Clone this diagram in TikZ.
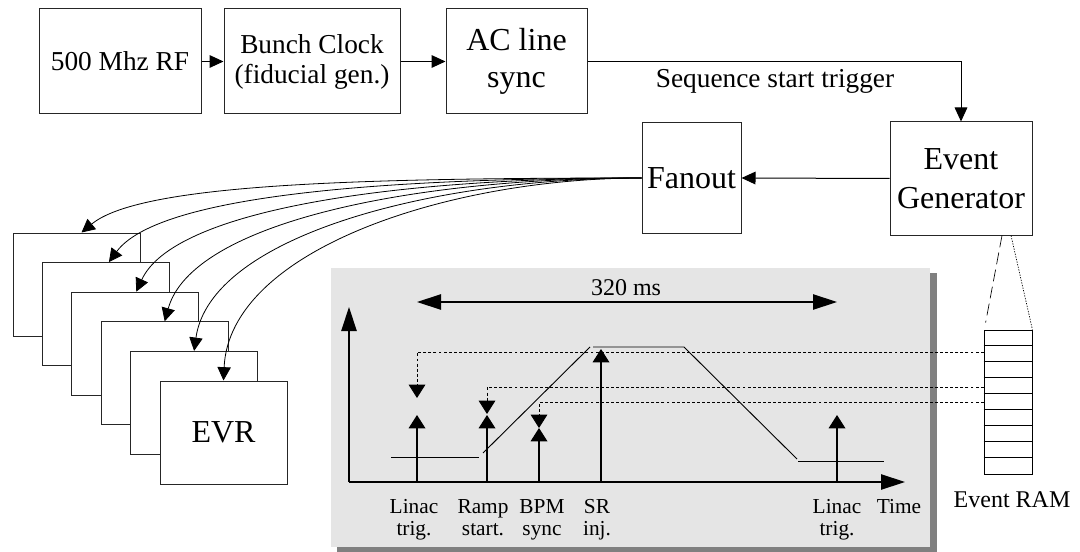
\documentclass[tikz,border=0pt]{standalone}
\usepackage{fontspec}
\setmainfont{Liberation Serif}
\usetikzlibrary{arrows.meta,calc}
\definecolor{panelgray}{RGB}{229,229,229}
\definecolor{shadowgray}{RGB}{128,128,128}
\begin{document}
\begin{tikzpicture}[x=0.75pt,y=-0.75pt,
  box/.style={draw=black!85,line width=0.75pt,fill=white,inner sep=0pt,align=center},
  arr/.style={line width=0.75pt,-{Triangle[length=10.5pt,width=9.5pt]}},
  evrarr/.style={line width=0.6pt,-{Triangle[length=10pt,width=10pt]}},
  evarr/.style={line width=1pt,-{Triangle[length=10pt,width=12.5pt]}},
  bigarr/.style={line width=1pt,-{Triangle[length=18pt,width=11.5pt]}},
  bigdbl/.style={line width=1pt,{Triangle[length=18pt,width=11.5pt]}-{Triangle[length=18pt,width=11.5pt]}},
  dsh/.style={line width=0.6pt,dash pattern=on 2.2pt off 1.6pt},
  wave/.style={line width=0.7pt},
  lab/.style={font=\fontsize{16}{16.5}\selectfont,align=center,anchor=north,inner sep=0pt},
  evrbox/.style={box,minimum width=95.25pt,minimum height=77.25pt}
]
\useasboundingbox (0,0) rectangle (1080,552);

% top chain
\node[box,minimum width=121.5pt,minimum height=78.75pt,font=\fontsize{20.5}{24}\selectfont] (rf) at (120,61.5) {500 Mhz RF};
\node[box,minimum width=132pt,minimum height=78.75pt,font=\fontsize{20.5}{22.5}\selectfont] (bunch) at (312,61.5) {Bunch Clock\\(fiducial gen.)};
\node[box,minimum width=105.75pt,minimum height=78.75pt,font=\fontsize{24}{28}\selectfont] (ac) at (516.5,61.5) {AC line\\sync};
\node[box,minimum width=106.5pt,minimum height=84.75pt,font=\fontsize{24}{29}\selectfont] (evg) at (961,178.5) {Event\\Generator};
\node[box,minimum width=74.25pt,minimum height=83.25pt,font=\fontsize{24}{28}\selectfont] (fan) at (691.5,178) {Fanout};
\node[font=\fontsize{20.5}{24}\selectfont,anchor=base,inner sep=0pt] (seq) at (775,88) {Sequence start trigger};

\draw[arr] (rf) -- (bunch);
\draw[arr] (bunch) -- (ac);
\draw[arr] (ac.east) -| (evg.north);
\draw[arr] (evg.west) -- (fan.east);

% EVR stack
\node[evrbox] (evr1) at (76.5,284.5) {};
\node[evrbox] (evr2) at (105.9,314.1) {};
\node[evrbox] (evr3) at (135.3,343.7) {};
\node[evrbox] (evr4) at (164.7,373.3) {};
\node[evrbox] (evr5) at (194.1,402.9) {};
\node[evrbox,font=\fontsize{24}{28}\selectfont] (evr6) at (223.5,432.5) {EVR};

\coordinate (t1) at ($(evr1.north west)+(69,0)$);
\coordinate (t2) at ($(evr2.north west)+(67,0)$);
\coordinate (t3) at ($(evr3.north west)+(65,0)$);
\coordinate (t4) at ($(evr4.north west)+(64,0)$);
\coordinate (t5) at ($(evr5.north west)+(64,0)$);
\coordinate (t6) at ($(evr6.north west)+(64,0)$);

\draw[evrarr] (fan.west) .. controls +(-292,0) and +(58,-48) .. (t1);
\draw[evrarr] (fan.west) .. controls +(-272,0) and +(48,-65) .. (t2);
\draw[evrarr] (fan.west) .. controls +(-252,0) and +(37,-81) .. (t3);
\draw[evrarr] (fan.west) .. controls +(-232,0) and +(27,-98) .. (t4);
\draw[evrarr] (fan.west) .. controls +(-212,0) and +(16,-114) .. (t5);
\draw[evrarr] (fan.west) .. controls +(-192,0) and +(6,-131) .. (t6);

% chart panel
\fill[shadowgray] (337,273) rectangle (937,552);
\fill[panelgray] (331,268) rectangle (930,547);

% Event RAM
\node[draw,line width=0.6pt,fill=white,minimum width=36pt,minimum height=108pt,inner sep=0pt] (ram) at (1008,402) {};
\foreach \k in {1,...,8}
  \draw[line width=0.6pt] ($(ram.north west)+(0,16*\k)$) -- ($(ram.north east)+(0,16*\k)$);
\node[font=\fontsize{18}{20}\selectfont,anchor=base,inner sep=0pt] (ramlab) at (1012,507) {Event RAM};

\draw[line width=0.5pt,dash pattern=on 9pt off 4pt] ($(evg.south)+(41,0)$) -- ($(ram.north west)+(2,-7)$);
\draw[line width=0.5pt,dash pattern=on 1pt off 1pt] ($(evg.south)+(50,0)$) -- (ram.north east);

% axes
\coordinate (o) at (349,482);
\draw[bigarr] (o) -- (349,307);
\draw[bigarr] (o) -- (905,482);
\draw[bigdbl] (417,302) -- (837,302);
\node[font=\fontsize{18}{20}\selectfont,anchor=base,inner sep=0pt] (ms) at (626,295) {320 ms};

% waveform
\draw[wave] (391,457) -- (479,457);
\draw[wave] (483,453) -- (590,347);
\draw[wave] (593,347) -- (684,347) -- (797,459);
\draw[wave] (798,461) -- (884,461);

% event arrows
\draw[evarr] (417,482) -- (417,415);
\draw[evarr] (487,482) -- (487,415);
\draw[evarr] (539,482) -- (539,428);
\draw[evarr] (601,482) -- (601,349);
\draw[evarr] (837,482) -- (837,415);

% dashed links from RAM
\coordinate (r2) at ($(ram.north west)+(0,23)$);
\coordinate (r4) at ($(ram.north west)+(0,58)$);
\coordinate (r5) at ($(ram.north west)+(0,73)$);
\draw[dsh,-{Triangle[length=10pt,width=12.5pt]}] (r2) -- (r2 -| 417,0) -- (417,398);
\draw[dsh,-{Triangle[length=10pt,width=12.5pt]}] (r4) -- (r4 -| 487,0) -- (487,414);
\draw[dsh,-{Triangle[length=10pt,width=12.5pt]}] (r5) -- (r5 -| 539,0) -- (539,428);

% labels
\node[lab] (l1) at (414,497.5) {\strut Linac\\trig.};
\node[lab] (l2) at (483,497.5) {\strut Ramp\\start.};
\node[lab] (l3) at (542,497.5) {\strut BPM\\sync};
\node[lab] (l4) at (597,497.5) {\strut SR\\inj.};
\node[lab] (l5) at (837,497.5) {\strut Linac\\trig.};
\node[lab] (l6) at (899,497.5) {\strut Time};
\end{tikzpicture}
\end{document}
